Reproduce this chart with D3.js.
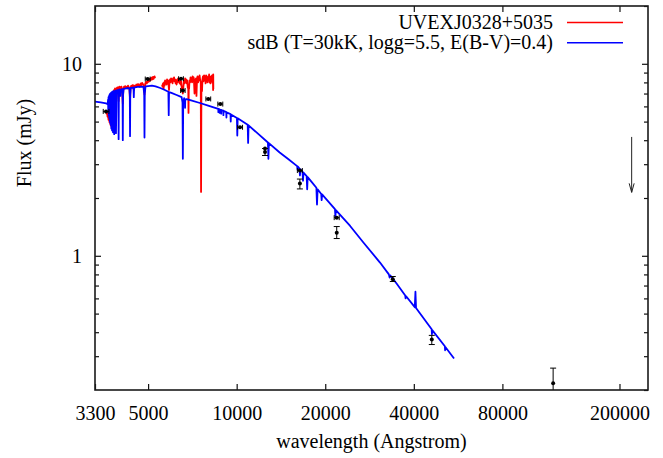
<!DOCTYPE html>
<html><head><meta charset="utf-8">
<script src="https://cdn.jsdelivr.net/npm/d3@7"></script>
</head><body style="margin:0">
<svg id="chart" width="663" height="458"></svg>
<script>
// Axis ticks
const xTickValues = [3300, 5000, 10000, 20000, 40000, 80000, 200000];
const yTickValues = [1, 10];

// Observed spectrum UVEXJ0328+5035 (two arms, gap between them)
const specWave = [
  3597,3610,3625,3640,3653,3668,3682,3697,3711,3725,3740,3755,3770,3785,3800,3815,3829,3845,3860,3875,3890,3905,3920,3936,3951,3970,3985,4000,4014,4030,4045,4060,4077,4102,4120,4142,4160,4180,4207,4230,4250,4274,4300,4320,4341,4360,4385,4410,4440,4471,4500,4530,4560,4590,4622,4650,4680,4695,4720,4745,4769,4800,4830,4861,4890,4921,4950,4975,4999,5020,5040,5060,5078,5100,5120,5140,5158,5180,5200,5220,5239,5260,5280,
  5400,
  5576,5600,5620,5645,5664,5690,5710,5735,5754,5780,5800,5825,5845,5870,5890,5910,5937,5960,5985,6010,6031,6055,6080,6100,6126,6150,6175,6200,6223,6250,6280,6300,6321,6345,6370,6400,6421,6450,6480,6500,6522,6563,6590,6625,6650,6680,6700,6730,6760,6790,6820,6845,6860,6875,6890,6915,6944,6970,7000,7030,7054,7080,7110,7140,7165,7190,7220,7250,7279,7300,7330,7360,7394,7420,7450,7480,7510,7550,7568,7590,7625,7650,7680,7710,7749,7780,7810,7840,7872,7900,7930,7960,7996,8030,8060,8090,8123,8150,8180,8210,8251,8280,8300,8315,8325,8330];
const specFlux = [
  5.70,5.50,5.60,5.30,5.45,5.10,5.25,4.95,5.05,4.80,4.90,4.70,4.85,4.65,6.20,7.10,7.30,7.20,7.45,7.10,6.30,7.30,7.50,7.35,7.55,6.40,7.40,7.60,7.45,7.55,7.40,7.60,7.30,6.20,7.40,7.60,7.45,7.65,7.50,7.60,7.45,7.70,7.55,7.40,6.50,7.50,7.70,7.60,7.75,7.30,7.70,7.60,7.80,7.65,7.85,7.70,7.60,7.80,7.90,7.75,7.95,7.85,7.70,6.90,7.90,8.05,7.90,8.10,8.20,8.05,8.30,8.15,8.35,8.20,8.45,8.30,8.50,8.30,8.55,8.35,8.45,8.60,8.40,
  null,
  7.80,7.60,7.90,7.40,8.00,7.70,8.20,7.90,8.10,7.80,8.30,8.00,8.20,7.70,7.30,8.00,8.30,8.00,8.40,8.10,8.30,7.90,8.40,8.20,8.50,8.10,8.30,7.90,8.20,7.80,8.30,8.00,8.40,8.10,8.30,7.90,8.20,7.80,8.10,7.60,7.30,7.00,7.60,8.20,7.90,8.40,8.00,8.30,7.90,8.20,7.50,7.80,5.55,7.60,7.40,8.20,8.00,8.50,8.10,8.40,8.00,8.60,8.20,8.50,7.90,7.00,8.30,7.60,8.40,6.80,8.20,8.60,8.00,8.50,8.20,8.70,8.30,8.00,2.15,7.90,7.20,8.30,8.60,8.10,8.70,8.20,8.60,7.90,8.70,8.20,8.50,8.00,8.60,8.20,8.80,8.00,8.50,7.90,8.60,8.10,8.70,8.00,8.60,7.30,8.80,7.40];

// Model: sdB, T=30kK, logg=5.5, reddened E(B-V)=0.4
const modelWave = [
  3300,3450,3600,3645,3655,3662,3668,3676,3683,3691,3699,3707,3715,3722,3728,3734,3741,3750,3758,3771,3783,3798,3812,3822,3835,3850,3872,3889,3905,3950,3962,3970,3978,3995,4020,4026,4032,4080,4094,4102,4110,4130,4250,4320,4333,4341,4349,4365,4460,4471,4482,4600,4820,4850,4861,4872,4900,5000,5150,5300,5500,5700,5860,5876,5890,6000,6250,6500,6545,6563,6581,6630,6670,6678,6686,6760,7000,7500,8000,8500,
  8660,8665,8670,8745,8750,8755,8858,8863,8868,9010,9015,9020,9220,9229,9238,9530,9546,9562,10020,10049,10078,10900,10938,10976,12770,12818,12866,14000,15000,
  16050,16109,16170,16340,16407,16470,16740,16807,16870,17290,17362,17430,18000,18660,18751,18840,19380,19446,19510,21580,21655,21730,24300,27000,30700,
  32900,33100,33300,35000,37400,37500,37600,40300,40510,40700,46000,46100,46200,51000,51100,51200,54800];
const modelFlux = [
  6.35,6.29,6.22,6.17,6.50,5.60,6.70,5.40,6.80,5.20,6.90,5.00,7.00,4.90,7.00,4.80,7.05,4.60,7.10,4.50,7.15,4.40,7.20,7.15,4.30,7.20,7.25,4.35,7.25,7.30,6.90,4.05,6.90,7.35,7.30,6.80,7.30,7.38,6.90,4.00,6.90,7.40,7.48,7.45,6.90,4.20,6.90,7.48,7.52,6.70,7.52,7.58,7.60,7.00,4.13,7.00,7.62,7.66,7.69,7.62,7.48,7.30,7.15,5.40,7.12,7.05,6.88,6.70,6.30,3.20,6.30,6.62,6.50,5.90,6.50,6.55,6.45,6.25,6.05,5.88,
  5.82,5.60,5.82,5.79,5.55,5.78,5.75,5.50,5.74,5.70,5.40,5.69,5.60,5.25,5.58,5.47,5.00,5.45,5.22,4.23,5.20,4.82,3.87,4.78,3.89,3.20,3.86,3.45,3.18,
  2.93,2.80,2.91,2.85,2.62,2.82,2.74,2.46,2.71,2.60,2.22,2.57,2.42,2.26,1.85,2.22,2.10,1.95,2.09,1.75,1.60,1.73,1.43,1.17,0.922,
  0.800,0.770,0.790,0.715,0.621,0.600,0.617,0.540,0.650,0.535,0.414,0.390,0.410,0.338,0.322,0.335,0.292];

// Photometry: points with error bars (null where a bar is absent)
const photWave   = [3597, 4984, 6469, 6563, 8010, 8799, 10266, 12484, 12484, 16400, 16400, 21880, 21880, 33930, 46040, 119000];
const photFlux   = [5.65, 8.33, 8.36, 7.26, 6.56, 6.17, 4.67, 3.62, 3.47, 2.78, 2.38, 1.58, 1.32, 0.755, 0.366, 0.217];
const photWaveLo = [3520, 4890, 6350, 6450, 7860, 8630, 10070, null, null, 16080, null, 21450, null, null, null, null];
const photWaveHi = [3680, 5080, 6590, 6680, 8160, 8970, 10470, null, null, 16720, null, 22310, null, null, null, null];
const photFluxLo = [null, null, null, null, null, null, null, null, 3.33, null, 2.23, null, 1.23, 0.735, 0.345, 0.17];
const photFluxHi = [null, null, null, null, null, null, null, null, 3.62, null, 2.51, null, 1.42, 0.780, 0.385, 0.26];

// Upper limit (arrow pointing down)
const limitWave = [220000];
const limitFlux = [4.16];
const limitArrowTo = [2.14];

const serif = '"Liberation Serif"';
const margin = {left: 95, right: 15, top: 6, bottom: 68};
const W = 663, H = 458;
const svg = d3.select("#chart");

const x = d3.scaleLog().domain([3300, 250000]).range([margin.left, W - margin.right]);
const y = d3.scaleLog().domain([0.2, 20]).range([H - margin.bottom, margin.top]);
const x0 = margin.left, x1 = W - margin.right, y0 = H - margin.bottom, y1 = margin.top;

svg.append("clipPath").attr("id", "plotclip")
  .append("rect").attr("x", x0).attr("y", y1).attr("width", x1 - x0).attr("height", y0 - y1);

const fontSize = 20;

// Bottom axis with labels, ticks pointing inward
const bottomAxis = svg.append("g").attr("transform", `translate(0,${y0})`)
  .call(d3.axisBottom(x).tickValues(xTickValues).tickFormat(d3.format("d")).tickSize(-6).tickPadding(16));
// Top mirror ticks
const topAxis = svg.append("g").attr("transform", `translate(0,${y1})`)
  .call(d3.axisTop(x).tickValues(xTickValues).tickFormat("").tickSize(-6));
// Left axis: labelled majors, unlabelled minors
const yAll = y.ticks();
const leftAxis = svg.append("g").attr("transform", `translate(${x0},0)`)
  .call(d3.axisLeft(y).tickValues(yAll).tickFormat(d => yTickValues.includes(d) ? d3.format("d")(d) : "").tickSize(-6).tickPadding(13));
const rightAxis = svg.append("g").attr("transform", `translate(${x1},0)`)
  .call(d3.axisRight(y).tickValues(yAll).tickFormat("").tickSize(-6));

[leftAxis, rightAxis].forEach(g => {
  g.selectAll(".tick line").attr("x2", d => yTickValues.includes(d) ? (g === leftAxis ? 6 : -6) : (g === leftAxis ? 4 : -4));
});
[bottomAxis, topAxis, leftAxis, rightAxis].forEach(g => {
  g.attr("font-family", null).attr("font-size", null);
  g.select(".domain").remove();
  g.selectAll(".tick line").attr("stroke", "#111").attr("stroke-width", 1.2);
  g.selectAll("text").attr("font-size", fontSize).attr("font-family", serif).attr("fill", "#000");
});
leftAxis.selectAll(".tick").filter(d => d === 20 || d === 0.2).select("line").remove();

const plot = svg.append("g").attr("clip-path", "url(#plotclip)");

const specLine = d3.line().defined(d => d[1] !== null).x(d => x(d[0])).y(d => y(d[1]));
const specData = specWave.map((w, i) => [w, specFlux[i]]);
const modelData = modelWave.map((w, i) => [w, modelFlux[i]]);

plot.append("path").datum(specData).attr("d", specLine)
  .attr("fill", "none").attr("stroke", "#ff0000").attr("stroke-width", 1.8).attr("stroke-linejoin", "round");
plot.append("path").datum(modelData).attr("d", specLine)
  .attr("fill", "none").attr("stroke", "#0000ff").attr("stroke-width", 1.8).attr("stroke-linejoin", "round");

// Photometry
const phot = plot.append("g").attr("stroke", "#000").attr("stroke-width", 1);
photWave.forEach((w, i) => {
  const px = x(w), py = y(photFlux[i]);
  if (photWaveLo[i] !== null) {
    const a = x(photWaveLo[i]), b = x(photWaveHi[i]);
    phot.append("line").attr("x1", a).attr("x2", b).attr("y1", py).attr("y2", py);
    phot.append("line").attr("x1", a).attr("x2", a).attr("y1", py - 2.5).attr("y2", py + 2.5);
    phot.append("line").attr("x1", b).attr("x2", b).attr("y1", py - 2.5).attr("y2", py + 2.5);
  }
  if (photFluxLo[i] !== null) {
    const a = y(photFluxLo[i]), b = y(photFluxHi[i]);
    phot.append("line").attr("x1", px).attr("x2", px).attr("y1", a).attr("y2", b);
    phot.append("line").attr("x1", px - 3).attr("x2", px + 3).attr("y1", a).attr("y2", a);
    phot.append("line").attr("x1", px - 3).attr("x2", px + 3).attr("y1", b).attr("y2", b);
  }
  phot.append("circle").attr("cx", px).attr("cy", py).attr("r", 2).attr("fill", "#000").attr("stroke", "none");
});

// Upper limit arrow
limitWave.forEach((w, i) => {
  const px = x(w), ya = y(limitFlux[i]), yb = y(limitArrowTo[i]);
  const g = plot.append("g").attr("stroke", "#222").attr("stroke-width", 1).attr("fill", "none");
  g.append("line").attr("x1", px).attr("x2", px).attr("y1", ya).attr("y2", yb);
  g.append("path").attr("d", `M${px - 2.5},${yb - 9}L${px},${yb}L${px + 2.5},${yb - 9}`);
});

// Frame
svg.append("rect").attr("x", x0).attr("y", y1).attr("width", x1 - x0).attr("height", y0 - y1)
  .attr("fill", "none").attr("stroke", "#1a1a1a").attr("stroke-width", 1.6);

// Legend
const legend = [
  {label: "UVEXJ0328+5035", color: "#ff0000"},
  {label: "sdB (T=30kK, logg=5.5, E(B-V)=0.4)", color: "#0000ff"}
];
legend.forEach((d, i) => {
  const ly = 22.5 + i * 20.3;
  svg.append("text").attr("x", 553).attr("y", ly + 6).attr("text-anchor", "end")
    .attr("font-size", fontSize).attr("font-family", serif).attr("fill", "#000").text(d.label);
  svg.append("line").attr("x1", 567).attr("x2", 623).attr("y1", ly).attr("y2", ly)
    .attr("stroke", d.color).attr("stroke-width", 1.5);
});

// Axis titles
svg.append("text").attr("x", (x0 + x1) / 2).attr("y", 448).attr("text-anchor", "middle")
  .attr("font-size", fontSize).attr("font-family", serif).text("wavelength (Angstrom)");
svg.append("text").attr("transform", "translate(31,143) rotate(-90)").attr("text-anchor", "middle")
  .attr("font-size", fontSize).attr("font-family", serif).text("Flux (mJy)");
</script>
</body></html>
